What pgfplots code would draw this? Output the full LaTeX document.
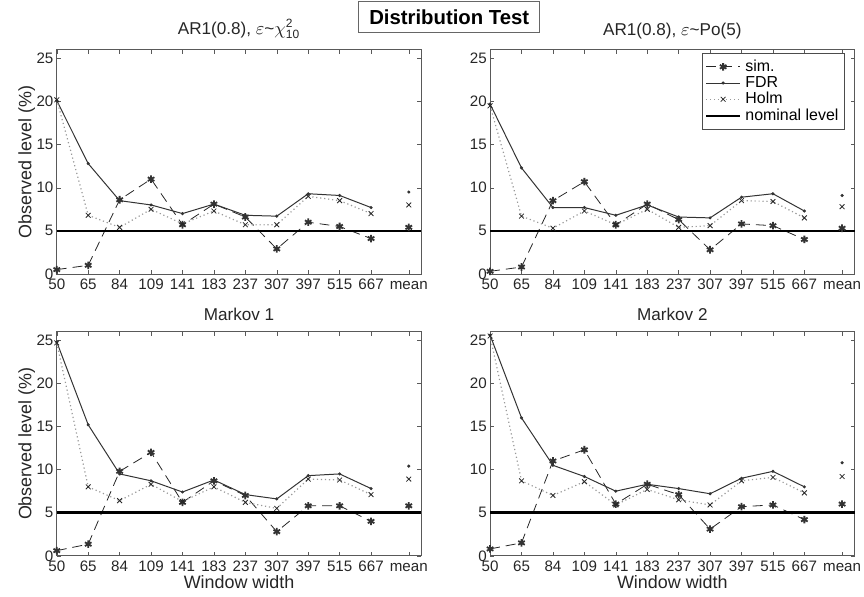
\documentclass[border=0pt]{standalone}
\usepackage{fontspec}
\setmainfont{Liberation Sans}
\usepackage{pgfplots}
\usepackage{pgfplotstable}
\pgfplotsset{compat=1.18}
\usepgfplotslibrary{groupplots}

% x: 0..10 window widths, 11.2 = mean
\pgfplotstableread{
x sim fdr holm
0 0.5 20.1 20.2
1 1.0 12.8 6.8
2 8.6 8.5 5.4
3 11.0 8.0 7.5
4 5.7 7.0 5.8
5 8.1 8.1 7.3
6 6.6 6.8 5.7
7 2.9 6.7 5.7
8 6.0 9.3 9.0
9 5.5 9.1 8.5
10 4.1 7.7 7.0
11.2 5.4 9.5 8.0
}\tA
\pgfplotstableread{
x sim fdr holm
0 0.3 19.7 19.5
1 0.8 12.3 6.7
2 8.5 7.7 5.3
3 10.7 7.7 7.3
4 5.7 6.8 5.7
5 8.1 8.0 7.5
6 6.3 6.6 5.4
7 2.8 6.5 5.6
8 5.8 8.9 8.5
9 5.6 9.3 8.4
10 4.0 7.3 6.5
11.2 5.3 9.1 7.8
}\tB
\pgfplotstableread{
x sim fdr holm
0 0.6 24.8 24.7
1 1.35 15.2 8.0
2 9.8 9.5 6.4
3 12.0 8.7 8.3
4 6.2 7.4 6.3
5 8.7 8.8 8.0
6 7.0 7.1 6.2
7 2.8 6.6 5.5
8 5.8 9.3 8.9
9 5.8 9.5 8.8
10 4.0 7.8 7.1
11.2 5.8 10.4 8.9
}\tC
\pgfplotstableread{
x sim fdr holm
0 0.8 25.6 25.5
1 1.5 16.0 8.7
2 11.0 10.5 7.0
3 12.3 9.2 8.6
4 6.0 7.5 5.9
5 8.3 8.3 7.7
6 7.1 7.8 6.5
7 3.1 7.2 5.9
8 5.7 9.0 8.7
9 5.9 9.8 9.1
10 4.2 8.0 7.3
11.2 6.0 10.8 9.2
}\tD

\pgfplotsset{
  ml/.style={
    scale only axis, width=183pt, height=112.5pt,
    xmin=0, xmax=11.6, ymin=0, ymax=26,
    xtick={0,1,2,3,4,5,6,7,8,9,10,11.2},
    xticklabels={50,65,84,109,141,183,237,307,397,515,667,mean},
    ytick={0,5,...,25},
    tick align=inside, tick pos=both, major tick length=2pt,
    axis line style={black!65},
    tick style={black!65},
    tick label style={font=\fontsize{7.6}{9}\selectfont, text=black!85},
    xticklabel style={inner sep=1.5pt, text height=6pt, text depth=0pt},
    yticklabel style={inner sep=1.5pt},
    /pgf/number format/assume math mode=true,
    title style={font=\fontsize{8.6}{9}\selectfont, text=black!85, yshift=-4pt},
    label style={font=\fontsize{9}{9}\selectfont, text=black!85},
    xlabel style={inner sep=0.5pt},
    ylabel style={inner sep=0pt, yshift=-1pt},
    clip=false,
  },
  sim/.style={black!85, dash pattern=on 5pt off 3pt, mark=asterisk, mark size=1.9pt,
    mark options={solid, line width=0.9pt, black!80}},
  fdr/.style={black!80, line width=0.5pt, mark=*, mark size=0.5pt},
  holm/.style={black!40, line width=0.6pt, dash pattern=on 0.6pt off 1.4pt, mark=x, mark size=1.7pt,
    mark options={solid, black!85, line width=0.4pt}},
  nom/.style={black, line width=1.3pt},
}

\newcommand\panel[1]{%
  \addplot[sim] table[x=x, y=sim, restrict x to domain=0:10]{#1};
  \addplot[fdr] table[x=x, y=fdr, restrict x to domain=0:10]{#1};
  \addplot[holm] table[x=x, y=holm, restrict x to domain=0:10]{#1};
  \addplot[nom] coordinates {(0,5) (11.6,5)};
  \addplot[sim, only marks, forget plot] table[x=x, y=sim, restrict x to domain=11:12]{#1};
  \addplot[fdr, only marks, forget plot] table[x=x, y=fdr, restrict x to domain=11:12]{#1};
  \addplot[holm, only marks, forget plot] table[x=x, y=holm, restrict x to domain=11:12]{#1};
}

\begin{document}
\begin{tikzpicture}
\begin{groupplot}[
  group style={group size=2 by 2, horizontal sep=34.5pt, vertical sep=29pt},
  ml,
]
\nextgroupplot[title={AR1(0.8), $\varepsilon$\textasciitilde$\chi^{\mathrm{2}}_{\mathrm{10}}$},
  ylabel={Observed level (\%)}]
\panel{\tA}
\nextgroupplot[title={AR1(0.8), $\varepsilon$\textasciitilde Po(5)},
  legend style={at={(0.973,0.985)}, anchor=north east, draw=black!70,
    font=\fontsize{8}{8}\selectfont, inner sep=1pt, row sep=-3pt},
  legend cell align=left]
\panel{\tB}
\legend{sim., FDR, Holm, nominal level}
\nextgroupplot[title={Markov 1}, ylabel={Observed level (\%)}, xlabel={Window width}]
\panel{\tC}
\nextgroupplot[title={Markov 2}, xlabel={Window width}]
\panel{\tD}
\end{groupplot}
\node[draw=black!60, fill=white, font=\bfseries\fontsize{10.2}{11}\selectfont,
  minimum width=91pt, minimum height=16pt, inner sep=1pt]
  at ([shift={(197pt,16.5pt)}]group c1r1.north west) {Distribution Test};
\useasboundingbox ([shift={(-28.5pt,25pt)}]group c1r1.north west)
  rectangle ([shift={(3pt,-20.5pt)}]group c2r2.south east);
\end{tikzpicture}
\end{document}
